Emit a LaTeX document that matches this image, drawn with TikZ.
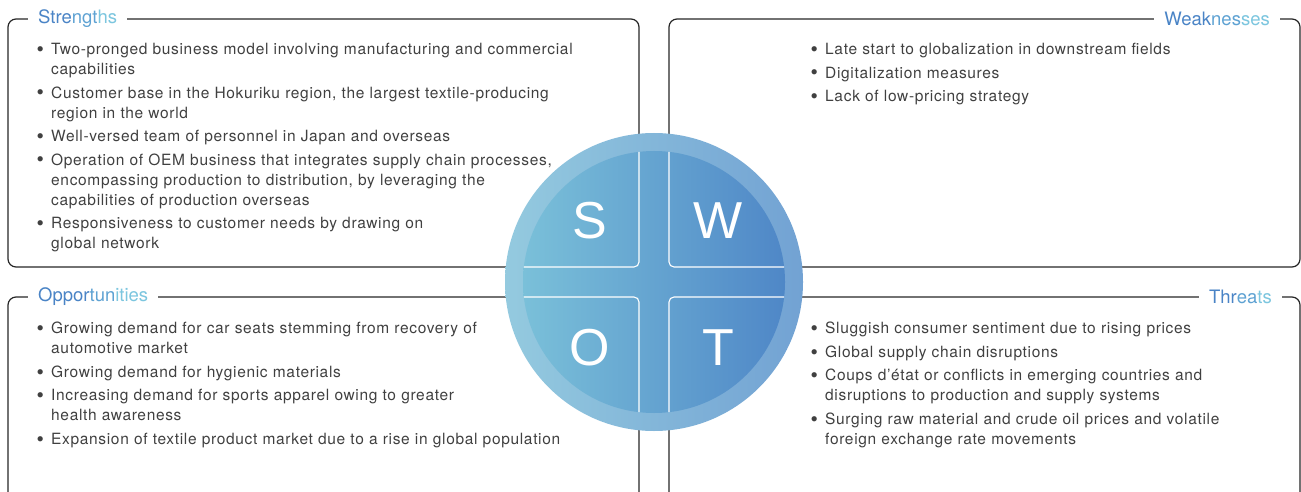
\documentclass[tikz,border=0pt]{standalone}
\usepackage{fontspec}
\setmainfont{TeX Gyre Heros}[LetterSpace=4.3]
\newfontfamily\ttlfont{TeX Gyre Heros}
\newfontfamily\letterfont{Liberation Sans}
\definecolor{txtgray}{HTML}{404040}
\definecolor{ttlA}{HTML}{4A84C6}
\definecolor{ttlB}{HTML}{5EA2D3}
\definecolor{ttlC}{HTML}{7CC6DF}
\definecolor{ringL}{HTML}{94CADF}
\definecolor{ringR}{HTML}{72A2D3}
\definecolor{discL}{HTML}{7AC0D9}
\definecolor{discR}{HTML}{4F87C7}
\newcommand\ttl[3]{\textcolor{ttlA}{#1}\textcolor{ttlB}{#2}\textcolor{ttlC}{#3}}
\newcommand\itm[1]{\par\noindent\hangindent=13pt\hangafter=1\makebox[13pt][l]{\kern-1.5pt\raisebox{-1.8pt}{\fontsize{21}{20}\selectfont\textbullet}}#1}

\begin{document}
\begin{tikzpicture}[x=1pt,y=-1pt,
  boxline/.style={line width=1.2pt,draw=black!85,rounded corners=8pt},
  boxtitle/.style={fill=white,inner xsep=10pt,inner ysep=3pt,font=\ttlfont\fontsize{18.5}{20}\selectfont},
  bullets/.style={anchor=north west,inner sep=0pt,align=left,text=txtgray,font=\fontsize{15.5}{20}\selectfont},
  quad/.style={white,line width=1.1pt,rounded corners=5pt},
  letter/.style={white,font=\letterfont\fontsize{52}{52}\selectfont}]
\useasboundingbox (0,0) rectangle (1301,492);

\draw[boxline] (8,19) rectangle (639,267);
\draw[boxline] (669,19) rectangle (1300,267);
\draw[boxline] (8,492) -- (8,297) -- (639,297) -- (639,492);
\draw[boxline] (669,492) -- (669,297) -- (1300,297) -- (1300,492);

\node[boxtitle,anchor=west] (sTitle) at (28,19) {\ttl{Stre}{ngt}{hs}};
\node[boxtitle,anchor=east] (wTitle) at (1280,19) {\ttl{Weak}{nes}{ses}};
\node[boxtitle,anchor=west] (oTitle) at (28,297) {\ttl{Oppor}{tun}{ities}};
\node[boxtitle,anchor=east] (tTitle) at (1282,297) {\ttl{Thr}{ea}{ts}};

\node[bullets,text width=590pt] (sList) at (38,31) {\setlength\parskip{3.5pt}%
\itm{Two-pronged business model involving manufacturing and commercial\newline capabilities}
\itm{Customer base in the Hokuriku region, the largest textile-producing\newline region in the world}
\itm{Well-versed team of personnel in Japan and overseas}
\itm{Operation of OEM business that integrates supply chain processes,\newline encompassing production to distribution, by leveraging the\newline capabilities of production overseas}
\itm{Responsiveness to customer needs by drawing on\newline global network}\par};

\node[bullets,text width=470pt] (wList) at (812,31) {\setlength\parskip{3.5pt}%
\itm{Late start to globalization in downstream fields}
\itm{Digitalization measures}
\itm{Lack of low-pricing strategy}\par};

\node[bullets,text width=590pt] (oList) at (38,310) {\setlength\parskip{3.5pt}%
\itm{Growing demand for car seats stemming from recovery of\newline automotive market}
\itm{Growing demand for hygienic materials}
\itm{Increasing demand for sports apparel owing to greater\newline health awareness}
\itm{Expansion of textile product market due to a rise in global population}\par};

\node[bullets,text width=470pt] (tList) at (812,310) {\setlength\parskip{3.5pt}%
\itm{Sluggish consumer sentiment due to rising prices}
\itm{Global supply chain disruptions}
\itm{Coups d’état or conflicts in emerging countries and\newline disruptions to production and supply systems}
\itm{Surging raw material and crude oil prices and volatile\newline foreign exchange rate movements}\par};

\coordinate (c) at (654,282);
\shade[left color=ringL,right color=ringR] (c) circle[radius=149pt];
\shade[left color=discL,right color=discR] (c) circle[radius=131pt];
\begin{scope}
\clip (c) circle[radius=131pt];
\draw[quad] (500,267) -- (639,267) -- (639,100);
\draw[quad] (800,267) -- (669,267) -- (669,100);
\draw[quad] (500,297) -- (639,297) -- (639,450);
\draw[quad] (800,297) -- (669,297) -- (669,450);
\end{scope}

\node[letter] (sLetter) at (590,221) {S};
\node[letter] (wLetter) at (718,221) {W};
\node[letter] (oLetter) at (590,348) {O};
\node[letter] (tLetter) at (718,348) {T};
\end{tikzpicture}
\end{document}
